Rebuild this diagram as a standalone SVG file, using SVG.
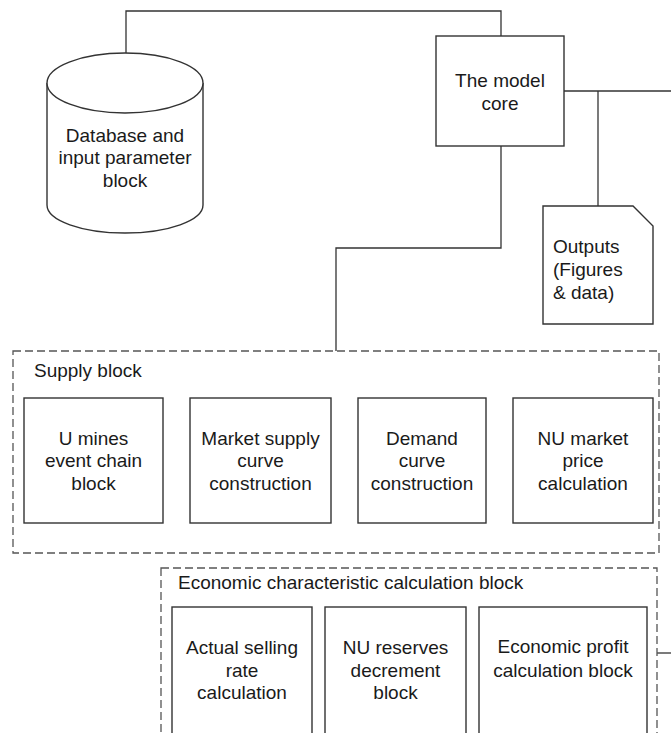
<svg xmlns="http://www.w3.org/2000/svg" width="671" height="733" viewBox="0 0 671 733">
  <style>
    .box { fill: #ffffff; stroke: #333333; stroke-width: 1.4; }
    .group { fill: none; stroke: #555555; stroke-width: 1.3; stroke-dasharray: 8 4; }
    .wire { fill: none; stroke: #333333; stroke-width: 1.3; }
    text { font-family: "Liberation Sans", Arial, sans-serif; font-size: 19px; fill: #1a1a1a; }
    .c { text-anchor: middle; }
  </style>
  <rect width="671" height="733" fill="#ffffff"/>

  <!-- connectors -->
  <g id="connectors">
    <polyline class="wire" points="126,54 126,11 501,11 501,36"/>
    <polyline class="wire" points="501,146 501,248 336,248 336,351"/>
    <line class="wire" x1="564" y1="91" x2="671" y2="91"/>
    <line class="wire" x1="598" y1="91" x2="598" y2="206"/>
    <line class="wire" x1="657" y1="653" x2="671" y2="653"/>
  </g>

  <!-- database cylinder -->
  <g id="database">
    <path class="box" d="M47,83 L47,205 A78,28 0 0 0 203,205 L203,83"/>
    <ellipse class="box" cx="125" cy="83" rx="78" ry="30"/>
    <text class="c" x="125" y="142">Database and</text>
    <text class="c" x="125" y="164">input parameter</text>
    <text class="c" x="125" y="187">block</text>
  </g>

  <!-- model core -->
  <g id="model-core">
    <rect class="box" x="436" y="36" width="128" height="110"/>
    <text class="c" x="500" y="87">The model</text>
    <text class="c" x="500" y="110">core</text>
  </g>

  <!-- outputs document -->
  <g id="outputs">
    <path class="box" d="M543,206 L633,206 L653,226 L653,324 L543,324 Z"/>
    <text x="553" y="253">Outputs</text>
    <text x="553" y="276">(Figures</text>
    <text x="553" y="299">&amp; data)</text>
  </g>

  <!-- supply block -->
  <g id="supply-block">
    <rect class="group" x="13" y="351" width="646" height="202"/>
    <text x="34" y="377">Supply block</text>
  </g>
  <g id="u-mines">
    <rect class="box" x="24" y="398" width="139" height="125"/>
    <text class="c" x="93.5" y="445">U mines</text>
    <text class="c" x="93.5" y="467">event chain</text>
    <text class="c" x="93.5" y="490">block</text>
  </g>
  <g id="market-supply">
    <rect class="box" x="190" y="398" width="141" height="125"/>
    <text class="c" x="260.5" y="445">Market supply</text>
    <text class="c" x="260.5" y="467">curve</text>
    <text class="c" x="260.5" y="490">construction</text>
  </g>
  <g id="demand-curve">
    <rect class="box" x="358" y="398" width="128" height="125"/>
    <text class="c" x="422" y="445">Demand</text>
    <text class="c" x="422" y="467">curve</text>
    <text class="c" x="422" y="490">construction</text>
  </g>
  <g id="nu-price">
    <rect class="box" x="513" y="398" width="140" height="125"/>
    <text class="c" x="583" y="445">NU market</text>
    <text class="c" x="583" y="467">price</text>
    <text class="c" x="583" y="490">calculation</text>
  </g>

  <!-- economic characteristic block -->
  <g id="economic-block">
    <rect class="group" x="161" y="568" width="496" height="180"/>
    <text x="178" y="589">Economic characteristic calculation block</text>
  </g>
  <g id="selling-rate">
    <rect class="box" x="172" y="607" width="140" height="130"/>
    <text class="c" x="242" y="654">Actual selling</text>
    <text class="c" x="242" y="677">rate</text>
    <text class="c" x="242" y="699">calculation</text>
  </g>
  <g id="reserves-decrement">
    <rect class="box" x="325" y="607" width="141" height="130"/>
    <text class="c" x="395.5" y="654">NU reserves</text>
    <text class="c" x="395.5" y="677">decrement</text>
    <text class="c" x="395.5" y="699">block</text>
  </g>
  <g id="economic-profit">
    <rect class="box" x="479" y="607" width="168" height="130"/>
    <text class="c" x="563" y="653">Economic profit</text>
    <text class="c" x="563" y="677">calculation block</text>
  </g>
</svg>
